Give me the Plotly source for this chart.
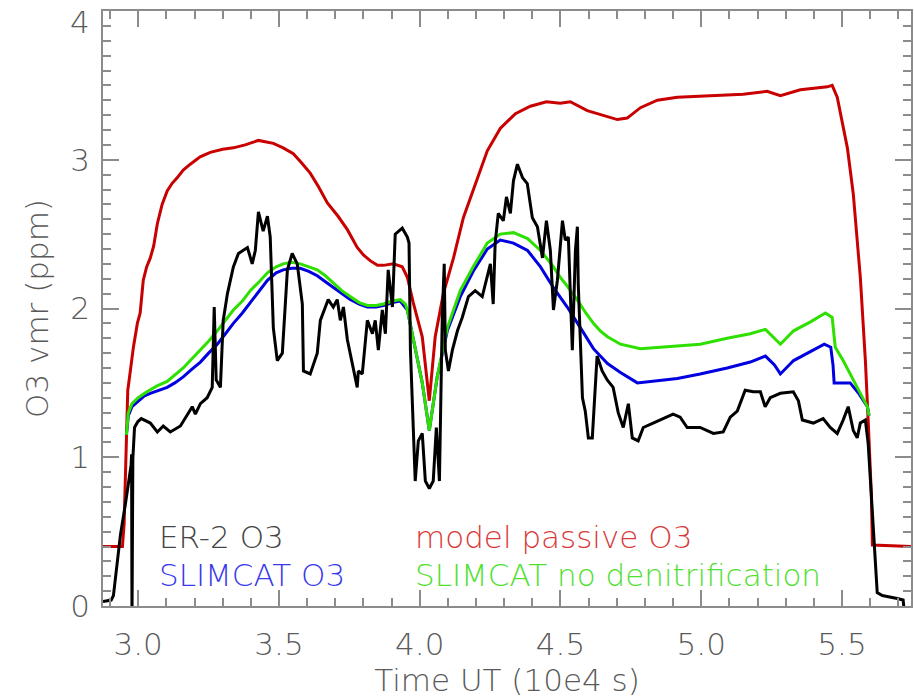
import plotly.graph_objects as go

# ---- data (time in 10^4 s, O3 in ppm) ----
er2_t = [2.875, 2.904, 2.912, 2.920, 2.937, 2.955, 2.967, 2.975, 2.9765, 2.978, 2.981, 2.987, 2.999, 3.011,
         3.043, 3.068, 3.089, 3.114, 3.150, 3.174, 3.192, 3.203, 3.221, 3.245, 3.263, 3.270, 3.277, 3.292,
         3.302, 3.317, 3.338, 3.356, 3.388, 3.405, 3.416, 3.427, 3.444, 3.459, 3.469, 3.480, 3.494, 3.512,
         3.530, 3.547, 3.565, 3.583, 3.587, 3.611, 3.636, 3.647, 3.675, 3.693, 3.707, 3.718, 3.729, 3.743,
         3.761, 3.778, 3.782, 3.796, 3.814, 3.832, 3.842, 3.853, 3.867, 3.878, 3.888, 3.903, 3.913, 3.938,
         3.956, 3.962, 3.967, 3.977, 3.984, 3.995, 4.009, 4.020, 4.034, 4.048, 4.059, 4.070, 4.080, 4.087,
         4.091, 4.102, 4.116, 4.134, 4.151, 4.173, 4.197, 4.222, 4.240, 4.251, 4.261, 4.268, 4.279, 4.297,
         4.308, 4.322, 4.333, 4.347, 4.365, 4.382, 4.400, 4.418, 4.436, 4.450, 4.464, 4.475, 4.489, 4.507,
         4.517, 4.528, 4.542, 4.553, 4.560, 4.563, 4.578, 4.588, 4.599, 4.613, 4.630, 4.648, 4.666, 4.687,
         4.705, 4.723, 4.741, 4.755, 4.776, 4.794, 4.829, 4.854, 4.900, 4.925, 4.950, 4.996, 5.043, 5.078,
         5.103, 5.128, 5.156, 5.185, 5.210, 5.227, 5.245, 5.281, 5.327, 5.345, 5.359, 5.398, 5.433, 5.458,
         5.483, 5.504, 5.522, 5.540, 5.554, 5.565, 5.583, 5.593, 5.608, 5.618, 5.625, 5.643, 5.675, 5.696,
         5.717, 5.722]
er2_o3 = [0.03, 0.04, 0.07, 0.20, 0.48, 0.69, 0.84, 0.95, 1.02, -0.10, 0.99, 1.20, 1.24, 1.26,
          1.23, 1.17, 1.21, 1.17, 1.21, 1.29, 1.34, 1.29, 1.36, 1.40, 1.47, 2.01, 1.52, 1.47,
          1.92, 2.10, 2.28, 2.37, 2.41, 2.30, 2.39, 2.65, 2.52, 2.62, 2.48, 1.87, 1.65, 1.70,
          2.26, 2.37, 2.30, 2.03, 1.58, 1.56, 1.70, 1.92, 2.06, 2.01, 2.06, 1.92, 2.01, 1.79,
          1.63, 1.47, 1.58, 1.56, 1.92, 1.83, 1.92, 1.72, 1.99, 1.83, 2.26, 2.01, 2.50, 2.54,
          2.48, 2.44, 1.72, 1.16, 0.84, 1.11, 1.16, 0.84, 0.79, 0.84, 1.20, 0.84, 1.94, 2.30,
          1.72, 1.58, 1.72, 1.85, 1.94, 2.08, 2.12, 2.08, 2.21, 2.30, 2.03, 2.44, 2.64, 2.59,
          2.75, 2.64, 2.86, 2.97, 2.88, 2.84, 2.61, 2.55, 2.34, 2.59, 2.39, 1.99, 2.19, 2.59,
          2.46, 2.48, 1.72, 2.39, 2.55, 2.17, 1.40, 1.31, 1.13, 1.13, 1.68, 1.58, 1.52, 1.47,
          1.30, 1.20, 1.36, 1.13, 1.11, 1.20, 1.23, 1.25, 1.29, 1.27, 1.20, 1.20, 1.16, 1.17,
          1.27, 1.31, 1.45, 1.44, 1.44, 1.34, 1.40, 1.43, 1.44, 1.38, 1.25, 1.23, 1.26, 1.20,
          1.16, 1.25, 1.34, 1.18, 1.13, 1.23, 1.25, 1.09, 0.64, 0.31, 0.09, 0.07, 0.06, 0.05,
          0.04, -0.05]

passive_t = [2.875, 2.944, 2.950, 2.955, 2.959, 2.963, 2.970, 2.983, 2.997, 3.007, 3.018, 3.030, 3.043,
             3.055, 3.068, 3.085, 3.103, 3.120, 3.139, 3.160, 3.185, 3.220, 3.256, 3.300, 3.338, 3.380,
             3.427, 3.455, 3.480, 3.515, 3.551, 3.580, 3.611, 3.640, 3.672, 3.710, 3.743, 3.778, 3.800,
             3.825, 3.850, 3.871, 3.906, 3.938, 3.956, 3.977, 4.009, 4.034, 4.055, 4.084, 4.120, 4.155,
             4.205, 4.240, 4.286, 4.340, 4.393, 4.450, 4.499, 4.535, 4.595, 4.652, 4.702, 4.737, 4.784,
             4.844, 4.915, 5.032, 5.149, 5.234, 5.281, 5.352, 5.448, 5.465, 5.483, 5.519, 5.540, 5.565,
             5.583, 5.594, 5.604, 5.608, 5.745]
passive_o3 = [0.40, 0.40, 0.55, 0.90, 1.30, 1.45, 1.55, 1.74, 1.90, 1.97, 2.19, 2.28, 2.34,
              2.42, 2.57, 2.70, 2.79, 2.84, 2.88, 2.93, 2.97, 3.02, 3.05, 3.07, 3.08, 3.10,
              3.13, 3.12, 3.11, 3.08, 3.04, 2.98, 2.91, 2.82, 2.71, 2.62, 2.53, 2.41, 2.36,
              2.32, 2.29, 2.29, 2.30, 2.28, 2.21, 2.04, 1.81, 1.38, 1.81, 2.10, 2.34, 2.61,
              2.88, 3.06, 3.21, 3.31, 3.36, 3.39, 3.38, 3.39, 3.33, 3.30, 3.27, 3.28, 3.35,
              3.40, 3.42, 3.43, 3.44, 3.46, 3.43, 3.47, 3.49, 3.50, 3.42, 3.08, 2.77, 2.21,
              1.65, 1.20, 0.76, 0.41, 0.40]

slim_t = [2.958, 2.965, 2.978, 3.000, 3.020, 3.043, 3.070, 3.103, 3.130, 3.160, 3.190, 3.221, 3.250,
          3.281, 3.310, 3.338, 3.370, 3.398, 3.430, 3.459, 3.490, 3.515, 3.545, 3.576, 3.606, 3.636,
          3.665, 3.693, 3.723, 3.753, 3.785, 3.814, 3.845, 3.871, 3.903, 3.931, 3.956, 3.977, 4.009,
          4.034, 4.062, 4.098, 4.144, 4.190, 4.240, 4.286, 4.333, 4.383, 4.429, 4.475, 4.524, 4.571,
          4.617, 4.667, 4.713, 4.773, 4.855, 4.915, 4.996, 5.092, 5.174, 5.228, 5.260, 5.281, 5.328,
          5.388, 5.437, 5.460, 5.468, 5.472, 5.529, 5.559, 5.590, 5.596]
slim_o3 = [1.15, 1.28, 1.34, 1.38, 1.41, 1.43, 1.45, 1.47, 1.50, 1.54, 1.59, 1.64, 1.70,
           1.76, 1.83, 1.90, 1.97, 2.04, 2.12, 2.19, 2.24, 2.26, 2.27, 2.27, 2.25, 2.22,
           2.18, 2.14, 2.10, 2.06, 2.03, 2.01, 2.01, 2.02, 2.04, 2.05, 1.99, 1.79, 1.50,
           1.18, 1.54, 1.85, 2.08, 2.25, 2.40, 2.46, 2.44, 2.39, 2.28, 2.14, 2.01, 1.87,
           1.73, 1.63, 1.57, 1.50, 1.52, 1.53, 1.56, 1.60, 1.64, 1.68, 1.62, 1.56, 1.65,
           1.71, 1.76, 1.74, 1.62, 1.50, 1.50, 1.43, 1.34, 1.28]

nodenit_t = [2.958, 2.965, 2.978, 3.000, 3.031, 3.067, 3.103, 3.130, 3.160, 3.190, 3.221, 3.250, 3.281,
             3.310, 3.338, 3.370, 3.398, 3.430, 3.459, 3.490, 3.515, 3.545, 3.576, 3.606, 3.636, 3.665,
             3.693, 3.723, 3.753, 3.785, 3.814, 3.845, 3.871, 3.903, 3.931, 3.949, 3.956, 3.977, 4.009,
             4.034, 4.062, 4.098, 4.144, 4.190, 4.240, 4.286, 4.333, 4.383, 4.429, 4.475, 4.499, 4.524,
             4.559, 4.590, 4.617, 4.641, 4.667, 4.713, 4.784, 4.855, 4.915, 4.996, 5.092, 5.174, 5.228,
             5.255, 5.281, 5.328, 5.388, 5.441, 5.465, 5.476, 5.504, 5.540, 5.572, 5.590, 5.596]
nodenit_o3 = [1.15, 1.30, 1.36, 1.40, 1.44, 1.48, 1.51, 1.55, 1.60, 1.66, 1.72, 1.78, 1.85,
              1.92, 1.99, 2.05, 2.12, 2.18, 2.24, 2.28, 2.30, 2.31, 2.30, 2.28, 2.26, 2.22,
              2.17, 2.12, 2.08, 2.04, 2.02, 2.02, 2.03, 2.05, 2.06, 2.03, 1.99, 1.79, 1.50,
              1.18, 1.54, 1.87, 2.12, 2.28, 2.44, 2.50, 2.51, 2.47, 2.39, 2.28, 2.21, 2.15,
              2.06, 1.97, 1.90, 1.85, 1.81, 1.76, 1.73, 1.74, 1.75, 1.76, 1.80, 1.83, 1.86,
              1.81, 1.76, 1.85, 1.91, 1.97, 1.94, 1.74, 1.65, 1.52, 1.40, 1.34, 1.28]

x_ticks = [3.0, 3.5, 4.0, 4.5, 5.0, 5.5]
y_ticks = [0, 1, 2, 3, 4]
y_top_label = "4"

legend_labels = ["ER-2 O3", "model passive O3", "SLIMCAT O3", "SLIMCAT no denitrification"]

FONT = "DejaVu Sans"
AX = "#8c8c8c"
TXT = "#5a5a5a"

fig = go.Figure()
fig.add_trace(go.Scatter(x=passive_t, y=passive_o3, mode="lines", line=dict(color="#c80000", width=3)))
fig.add_trace(go.Scatter(x=slim_t, y=slim_o3, mode="lines", line=dict(color="#0000e0", width=3)))
fig.add_trace(go.Scatter(x=nodenit_t, y=nodenit_o3, mode="lines", line=dict(color="#2ee000", width=3)))
fig.add_trace(go.Scatter(x=er2_t, y=er2_o3, mode="lines", line=dict(color="#000000", width=3)))

leg_pos = [(3.068, 0.462), (3.977, 0.462), (3.068, 0.206), (3.977, 0.206)]
leg_col = ["#444444", "#d83a3a", "#3a3ae8", "#50e030"]
for lab, (lx, ly), c in zip(legend_labels, leg_pos, leg_col):
    fig.add_annotation(x=lx, y=ly, xref="x", yref="y", text=lab, showarrow=False,
                       xanchor="left", yanchor="middle",
                       font=dict(family=FONT, size=31, color=c, weight=200))

# top y label drawn slightly inside the figure (as in the original), the axis keeps its tick
fig.add_annotation(x=0, y=y_ticks[-1], xref="paper", yref="y", text=y_top_label, showarrow=False,
                   xanchor="right", yanchor="middle", xshift=-11, yshift=-11,
                   font=dict(family=FONT, size=31, color=TXT, weight=200))

axis_common = dict(showline=True, linecolor=AX, linewidth=1.5, mirror="ticks",
                   ticks="inside", ticklen=16, tickwidth=1.5, tickcolor=AX,
                   showgrid=False, zeroline=False,
                   tickfont=dict(family=FONT, size=31, color=TXT, weight=200))

fig.update_xaxes(range=[2.875, 5.745], tickvals=x_ticks, ticktext=[f"{v:.1f}" for v in x_ticks],
                 minor=dict(dtick=0.1, tick0=3.0, ticks="inside", ticklen=8, tickwidth=1.5, tickcolor=AX),
                 ticklabelstandoff=10,
                 title=dict(text="Time UT (10e4 s)", standoff=5,
                            font=dict(family=FONT, size=31, color=TXT, weight=200)),
                 **axis_common)
fig.update_yaxes(range=[0, 4], tickvals=y_ticks,
                 ticktext=[str(v) if v != y_ticks[-1] else "" for v in y_ticks],
                 minor=dict(dtick=0.1, tick0=0, ticks="inside", ticklen=8, tickwidth=1.5, tickcolor=AX),
                 ticklabelstandoff=5,
                 title=dict(text="O3 vmr (ppm)", standoff=12,
                            font=dict(family=FONT, size=31, color=TXT, weight=200)),
                 **axis_common)

fig.update_layout(width=914, height=699, showlegend=False,
                  margin=dict(l=103, r=3, t=11, b=93, autoexpand=False),
                  paper_bgcolor="white", plot_bgcolor="white")

fig.write_html("out.html", config={"displayModeBar": False},
               post_script="document.body.style.margin='0px';document.body.style.overflow='hidden';")
